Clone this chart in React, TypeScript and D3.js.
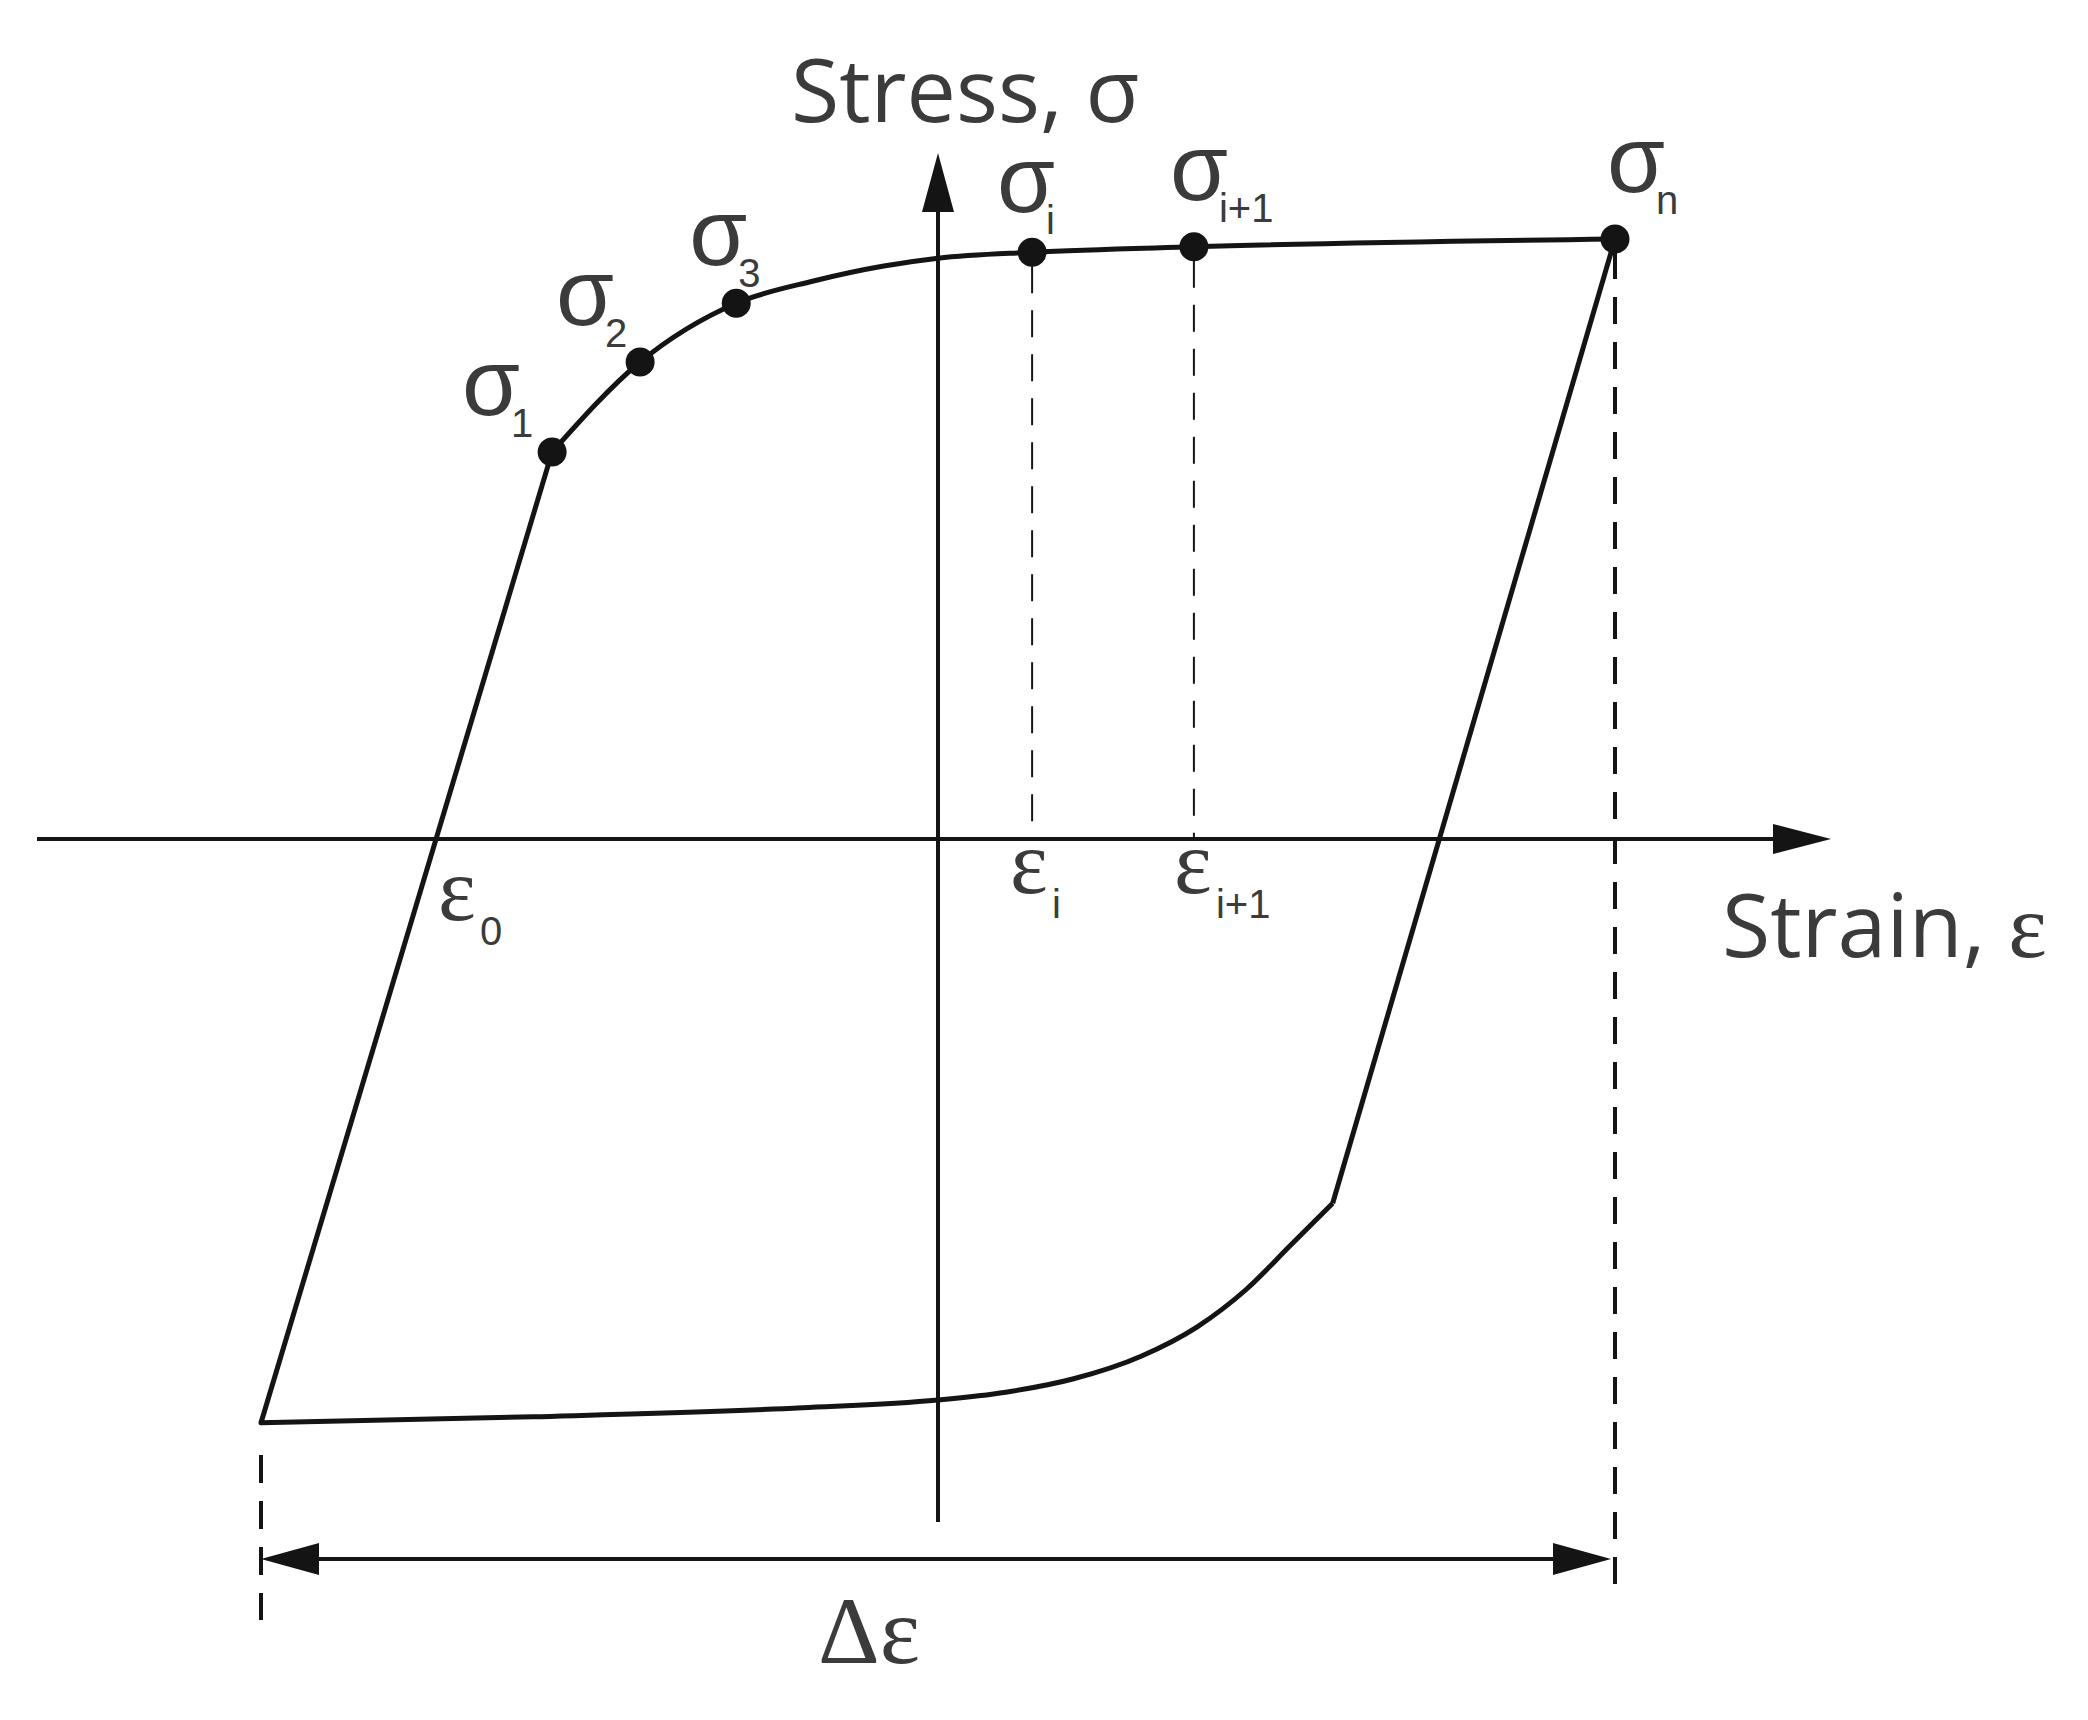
import * as d3 from 'd3';
import React from 'react';

const width = 2088;
const height = 1720;

// loading branch: elastic line from the bottom corner to sigma_1, then the hardening curve up to sigma_n
const loadingStrain = [-1, -0.57, -0.44, -0.298, -0.184, -0.080, 0, 0.139, 0.378, 1.0];
const loadingStress = [-0.973, 0.645, 0.795, 0.893, 0.930, 0.955, 0.968, 0.978, 0.987, 1.0];

// unloading branch: elastic line from sigma_n down to the knee, then the reverse curve to the corner
const unloadingStrain = [1.0, 0.583, 0.52, 0.456, 0.383, 0.3, 0.199, 0.1, 0, -0.2, -0.598, -1];
const unloadingStress = [1.0, -0.607, -0.678, -0.75, -0.813, -0.862, -0.9, -0.922, -0.935, -0.948, -0.963, -0.973];

// marked points on the loading branch and their subscripts
const markedIndex = [1, 2, 3, 7, 8, 9];
const markedSub = ['1', '2', '3', 'i', 'i+1', 'n'];
// strain labels on the axis
const strainSub = ['0', 'i', 'i+1'];

// label placement relative to each dot: sigma left, sigma baseline (pixels)
const sigmaOffset = [
  [-90, -37],
  [-84, -37],
  [-47, -38],
  [-35, -40],
  [-24, -47],
  [-8, -47],
];

export default function App() {
  const x = d3.scaleLinear().domain([-1, 1]).range([261, 1615]);
  const y = d3.scaleLinear().domain([-1, 1]).range([1439, 239]);

  const loading = loadingStrain.map((s, i) => [s, loadingStress[i]] as [number, number]);
  const unloading = unloadingStrain.map((s, i) => [s, unloadingStress[i]] as [number, number]);

  const straight = d3.line<[number, number]>().x(d => x(d[0])).y(d => y(d[1]));
  const smooth = d3.line<[number, number]>().x(d => x(d[0])).y(d => y(d[1])).curve(d3.curveMonotoneX);

  const x0 = x(0);
  const y0 = y(0);

  // where the elastic loading line crosses zero stress
  const a = loading[0], b = loading[1];
  const eps0 = a[0] + (0 - a[1]) / (b[1] - a[1]) * (b[0] - a[0]);
  const strainAt = [eps0, loading[7][0], loading[8][0]];
  const strainOffset = [
    [2, 81],
    [-22, 54],
    [-20, 54],
  ];

  const ink = '#141414';
  const textInk = '#3b3b3b';
  const sans = "'Liberation Sans', Arial, sans-serif";
  const serif = "'Liberation Serif', 'Times New Roman', serif";

  const arrowY = 1559;
  const left = x(-1), right = x(1);

  return (
    <svg width={width} height={height} style={{ position: 'absolute', left: 0, top: 0, background: '#fff' }}>
      {/* axes */}
      <line x1={37} x2={1775} y1={y0} y2={y0} stroke={ink} strokeWidth={4} />
      <polygon points={`1831,${y0} 1773,${y0 - 15} 1773,${y0 + 15}`} fill={ink} />
      <line x1={x0} x2={x0} y1={1522} y2={208} stroke={ink} strokeWidth={4} />
      <polygon points={`${x0},153 ${x0 - 16},212 ${x0 + 16},212`} fill={ink} />

      {/* guide lines */}
      {[7, 8].map(i => (
        <line key={i} x1={x(loading[i][0])} x2={x(loading[i][0])} y1={y(loading[i][1]) + 14} y2={y0}
          stroke={ink} strokeWidth={2} strokeDasharray="27 17" />
      ))}
      <line x1={right} x2={right} y1={252} y2={1587} stroke={ink} strokeWidth={4} strokeDasharray="27 18" />
      <line x1={left} x2={left} y1={1455} y2={1620} stroke={ink} strokeWidth={4} strokeDasharray="28 18" />

      {/* loop */}
      <path d={straight(loading.slice(0, 2)) || ''} fill="none" stroke={ink} strokeWidth={5} />
      <path d={smooth(loading.slice(1)) || ''} fill="none" stroke={ink} strokeWidth={5} />
      <path d={straight(unloading.slice(0, 2)) || ''} fill="none" stroke={ink} strokeWidth={5} />
      <path d={smooth(unloading.slice(1).reverse()) || ''} fill="none" stroke={ink} strokeWidth={5} />
      <path d={straight([loading[0], unloading[unloading.length - 1]]) || ''} stroke={ink} strokeWidth={5} strokeLinecap="round" />

      {/* dots and sigma labels */}
      {markedIndex.map((idx, k) => {
        const cx = x(loading[idx][0]);
        const cy = y(loading[idx][1]);
        const o = sigmaOffset[k];
        return (
          <g key={k}>
            <circle cx={cx} cy={cy} r={14.5} fill={ink} />
            <text x={cx + o[0]} y={cy + o[1]} fontFamily={sans} fill={textInk}>
              <tspan fontSize={94}>σ</tspan>
              <tspan x={cx + o[0] + 49} dy={22} fontSize={40}>{markedSub[k]}</tspan>
            </text>
          </g>
        );
      })}

      {/* strain labels */}
      {strainAt.map((s, k) => {
        const px = x(s);
        const o = strainOffset[k];
        return (
          <text key={k} x={px + o[0]} y={y0 + o[1]} fill={textInk}>
            <tspan fontFamily={serif} fontSize={90}>ε</tspan>
            <tspan x={px + o[0] + 42} dy={25} fontFamily={sans} fontSize={40}>{strainSub[k]}</tspan>
          </text>
        );
      })}

      {/* strain range */}
      <line x1={left + 50} x2={right - 50} y1={arrowY} y2={arrowY} stroke={ink} strokeWidth={4} />
      <polygon points={`${left},${arrowY} ${left + 58},${arrowY - 16} ${left + 58},${arrowY + 16}`} fill={ink} />
      <polygon points={`${right - 4},${arrowY} ${right - 62},${arrowY - 16} ${right - 62},${arrowY + 16}`} fill={ink} />
      <text x={818} y={1663} fontFamily={serif} fontSize={96} fill={textInk}>Δε</text>

      {/* axis titles */}
      <text x={791} y={122} fontFamily="'Open Sans', sans-serif" fontSize={88} fill={textInk}>Stress, σ</text>
      <text x={1722} y={957} fontFamily="'Open Sans', sans-serif" fontSize={88} fill={textInk}>
        Strain, <tspan fontFamily={serif} fontSize={92}>ε</tspan>
      </text>
    </svg>
  );
}
